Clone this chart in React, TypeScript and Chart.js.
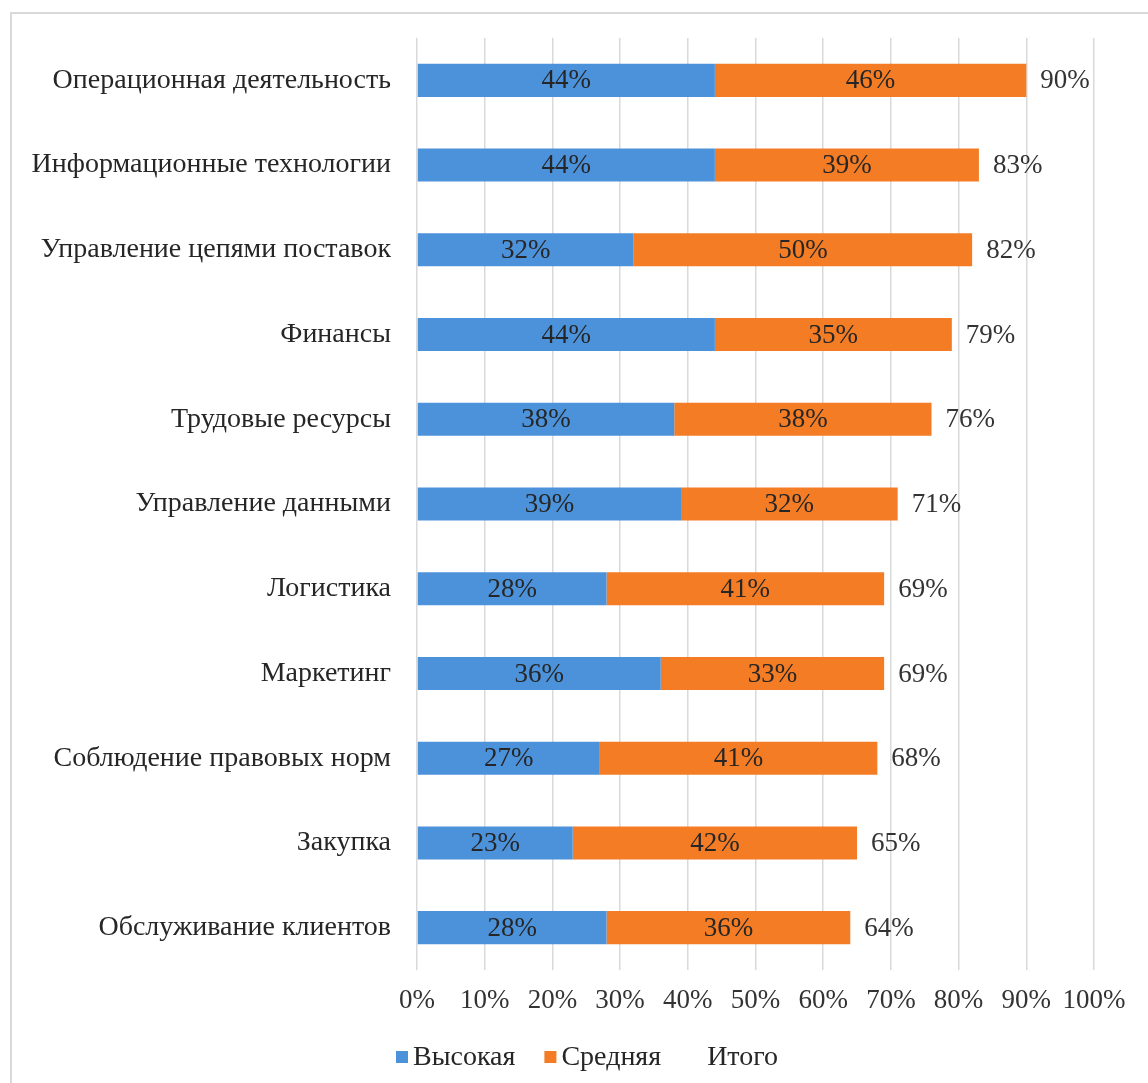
import React, { useEffect, useRef } from "react";
import { Chart, registerables } from "chart.js";

Chart.register(...registerables);

const categories = [
  "Операционная деятельность",
  "Информационные технологии",
  "Управление цепями поставок",
  "Финансы",
  "Трудовые ресурсы",
  "Управление данными",
  "Логистика",
  "Маркетинг",
  "Соблюдение правовых норм",
  "Закупка",
  "Обслуживание клиентов",
];
const highValues = [44, 44, 32, 44, 38, 39, 28, 36, 27, 23, 28];
const mediumValues = [46, 39, 50, 35, 38, 32, 41, 33, 41, 42, 36];
const totalValues = [90, 83, 82, 79, 76, 71, 69, 69, 68, 65, 64];
const xTicks = [0, 10, 20, 30, 40, 50, 60, 70, 80, 90, 100];
const seriesNames = ["Высокая", "Средняя", "Итого"];
const seriesColors = ["#4C92DA", "#F37C24", "rgba(0,0,0,0)"];

const FONT = "'Liberation Serif', 'Times New Roman', serif";
const FONT_SIZE = 27;
const CAT_FONT_SIZE = 28;

const barLabels = {
  id: "barLabels",
  afterDatasetsDraw(chart: any) {
    const ctx = chart.ctx;
    ctx.save();
    ctx.font = `${FONT_SIZE}px ${FONT}`;
    ctx.textBaseline = "middle";
    chart.data.datasets.forEach((ds: any, di: number) => {
      const meta = chart.getDatasetMeta(di);
      meta.data.forEach((el: any, i: number) => {
        const v = ds.data[i];
        const { x, y, base } = el.getProps(["x", "y", "base"], true);
        if (di < 2) {
          ctx.textAlign = "center";
          ctx.fillStyle = "#262626";
          ctx.fillText(v + "%", (x + base) / 2, y + 1);
        } else {
          ctx.textAlign = "left";
          ctx.fillStyle = "#333333";
          ctx.fillText(v + "%", x + 14, y + 1);
        }
      });
    });
    ctx.restore();
  },
};

const customLegend = {
  id: "customLegend",
  afterDraw(chart: any) {
    const ctx = chart.ctx;
    ctx.save();
    ctx.font = `${CAT_FONT_SIZE}px ${FONT}`;
    ctx.textBaseline = "middle";
    ctx.textAlign = "left";
    const box = 12;
    const gap = 5;
    const spacing = 29;
    const items = chart.data.datasets.map((ds: any) => ({
      text: ds.label,
      color: ds.backgroundColor,
    }));
    const widths = items.map(
      (it: any) => box + gap + ctx.measureText(it.text).width
    );
    const total =
      widths.reduce((a: number, b: number) => a + b, 0) +
      spacing * (items.length - 1);
    let x = 587 - total / 2;
    const y = 1057;
    items.forEach((it: any, i: number) => {
      ctx.fillStyle = it.color;
      ctx.fillRect(x, y - box / 2, box, box);
      ctx.fillStyle = "#262626";
      ctx.fillText(it.text, x + box + gap, y + 1);
      x += widths[i] + spacing;
    });
    ctx.restore();
  },
};

export default function App() {
  const canvasRef = useRef<HTMLCanvasElement | null>(null);

  useEffect(() => {
    const canvas = canvasRef.current;
    if (!canvas) return;
    const chart = new Chart(canvas, {
      type: "bar",
      data: {
        labels: categories,
        datasets: [
          {
            label: seriesNames[0],
            data: highValues,
            backgroundColor: seriesColors[0],
            stack: "main",
            barPercentage: 0.39,
            categoryPercentage: 1,
          },
          {
            label: seriesNames[1],
            data: mediumValues,
            backgroundColor: seriesColors[1],
            stack: "main",
            barPercentage: 0.39,
            categoryPercentage: 1,
          },
          {
            label: seriesNames[2],
            data: totalValues,
            backgroundColor: seriesColors[2],
            stack: "total",
            grouped: false,
            barPercentage: 0.39,
            categoryPercentage: 1,
          },
        ],
      },
      options: {
        indexAxis: "y",
        responsive: false,
        animation: false,
        devicePixelRatio: 1,
        layout: { padding: { top: 38, right: 54, left: 0, bottom: 0 } },
        plugins: {
          legend: { display: false },
          tooltip: { enabled: false },
        },
        scales: {
          x: {
            stacked: true,
            min: 0,
            max: 100,
            afterBuildTicks: (s: any) => {
              s.ticks = xTicks.map((v) => ({ value: v }));
            },
            ticks: {
              callback: (v: any) => v + "%",
              font: { family: FONT, size: FONT_SIZE },
              color: "#333333",
              padding: 15,
              maxRotation: 0,
              autoSkip: false,
            },
            grid: { color: "#d9d9d9", lineWidth: 1.5, drawTicks: false },
            border: { display: false },
            afterFit: (s: any) => {
              s.height = 113;
            },
          },
          y: {
            stacked: true,
            ticks: {
              font: { family: FONT, size: CAT_FONT_SIZE },
              color: "#262626",
              padding: 18,
              autoSkip: false,
            },
            grid: { display: false },
            border: { display: false },
            afterFit: (s: any) => {
              s.width = 417;
            },
          },
        },
      },
      plugins: [barLabels, customLegend],
    });
    return () => chart.destroy();
  }, []);

  return (
    <div
      style={{
        position: "fixed",
        left: 0,
        top: 0,
        width: 1148,
        height: 1083,
        background: "#ffffff",
        overflow: "hidden",
      }}
    >
      <div
        style={{
          position: "absolute",
          left: 10,
          top: 12,
          right: -10,
          bottom: -10,
          borderTop: "2px solid #d9d9d9",
          borderLeft: "2px solid #d9d9d9",
        }}
      />
      <canvas
        ref={canvasRef}
        width={1148}
        height={1083}
        style={{ position: "absolute", left: 0, top: 0 }}
      />
    </div>
  );
}
